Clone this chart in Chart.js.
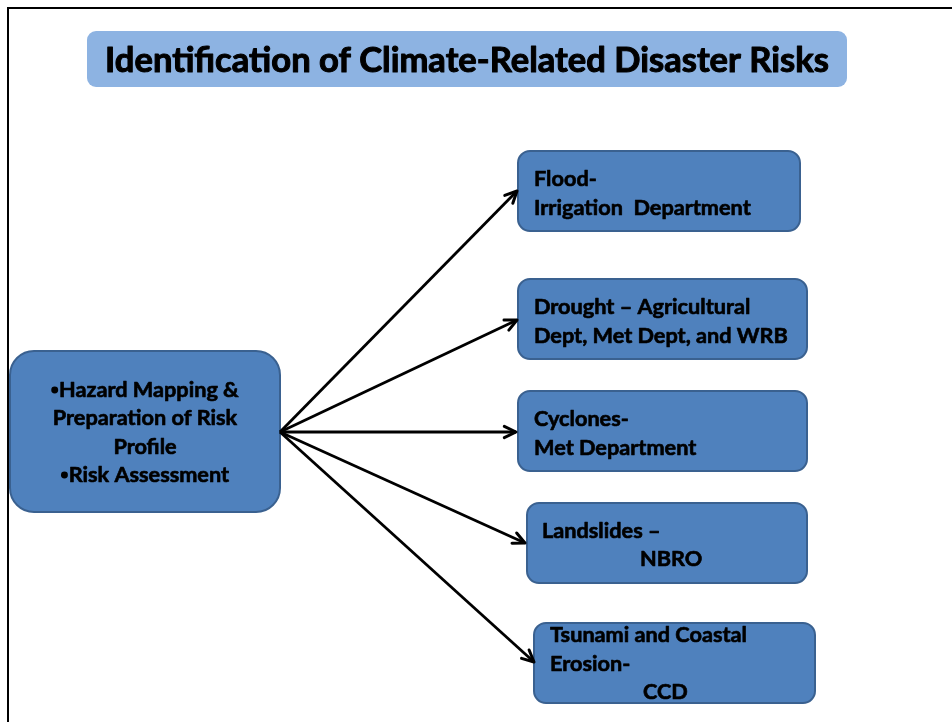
<!DOCTYPE html>
<html>
<head>
<meta charset="utf-8">
<script src="https://cdn.jsdelivr.net/npm/chart.js@4.4.1/dist/chart.umd.min.js"></script>
<style>
  body { margin: 0; background: #fff; }
  canvas { display: block; }
</style>
</head>
<body>
<canvas id="diagram" width="952" height="722"></canvas>
<script>
// diagram content
const titleText = "Identification of Climate-Related Disaster Risks";
const sourceLines = ["\u2022Hazard Mapping &", "Preparation of Risk", "Profile", "\u2022Risk Assessment"];
const targetLines = [
  ["Flood-", "Irrigation  Department"],
  ["Drought \u2013 Agricultural", "Dept, Met Dept, and WRB"],
  ["Cyclones-", "Met Department"],
  ["Landslides \u2013", "NBRO"],
  ["Tsunami and Coastal", "Erosion-", "CCD"]
];

// layout in page units (x right, y down)
const frameX = [8, 8, 952];
const frameY = [722, 8, 8];
const titleBox = [87, 847, 31, 87];
const sourceBox = [10, 280, 351, 512];
const sourceLineY = [390, 418, 447, 475];
const targetLeft = [518, 518, 518, 527, 534];
const targetRight = [800, 807, 807, 807, 815];
const targetTop = [151, 279, 391, 503, 623];
const targetBottom = [231, 359, 471, 583, 703];
const targetTextX = [[534, 534], [534, 534], [534, 534], [542, 640], [550, 550, 643]];
const targetTextY = [[179, 208], [307, 336], [419, 448], [531, 559], [635, 664, 692]];
const arrowFrom = [280, 432];
const arrowToX = [517, 517, 516, 525, 534];
const arrowToY = [191, 320, 432, 543, 662];

const fontFamily = "Lato, 'Open Sans', sans-serif";

function fitFont(ctx, text, width) {
  ctx.font = "bold 100px " + fontFamily;
  return 100 * width / ctx.measureText(text).width;
}

function roundBox(ctx, x1, y1, x2, y2, r) {
  ctx.beginPath();
  ctx.moveTo(x1 + r, y1);
  ctx.arcTo(x2, y1, x2, y2, r);
  ctx.arcTo(x2, y2, x1, y2, r);
  ctx.arcTo(x1, y2, x1, y1, r);
  ctx.arcTo(x1, y1, x2, y1, r);
  ctx.closePath();
}

// bullets are drawn smaller, like the original slide; a thin stroke makes the text heavier
function drawLine(ctx, text, x, y, size, align) {
  const bullet = text.startsWith("\u2022");
  const body = bullet ? text.slice(1) : text;
  ctx.font = "bold " + size + "px " + fontFamily;
  const w = ctx.measureText(body).width;
  const bw = bullet ? size * 0.36 : 0;
  let left = align === 'center' ? x - (w + bw) / 2 : x;
  if (bullet) {
    ctx.beginPath();
    ctx.arc(left + bw * 0.45, y, size * 0.16, 0, Math.PI * 2);
    ctx.fill();
  }
  ctx.textAlign = 'left';
  ctx.strokeStyle = ctx.fillStyle;
  ctx.lineWidth = size * 0.03;
  ctx.lineJoin = 'round';
  ctx.fillText(body, left + bw, y);
  ctx.strokeText(body, left + bw, y);
}

const boxesPlugin = {
  id: 'boxes',
  beforeDatasetsDraw(chart) {
    const ctx = chart.ctx;
    const sx = chart.scales.x, sy = chart.scales.y;
    ctx.save();
    // page frame
    ctx.strokeStyle = '#000';
    ctx.lineWidth = 2;
    ctx.beginPath();
    frameX.forEach((v, i) => {
      const px = sx.getPixelForValue(v), py = sy.getPixelForValue(frameY[i]);
      if (i === 0) ctx.moveTo(px, py); else ctx.lineTo(px, py);
    });
    ctx.stroke();

    // title
    roundBox(ctx, sx.getPixelForValue(titleBox[0]), sy.getPixelForValue(titleBox[2]),
      sx.getPixelForValue(titleBox[1]), sy.getPixelForValue(titleBox[3]), 9);
    ctx.fillStyle = '#8DB3E2';
    ctx.fill();
    const tSize = fitFont(ctx, titleText, 724);
    ctx.fillStyle = '#000';
    ctx.textBaseline = 'middle';
    drawLine(ctx, titleText, sx.getPixelForValue((titleBox[0] + titleBox[1]) / 2), sy.getPixelForValue(61), tSize, 'center');

    // source box
    roundBox(ctx, sx.getPixelForValue(sourceBox[0]), sy.getPixelForValue(sourceBox[2]),
      sx.getPixelForValue(sourceBox[1]), sy.getPixelForValue(sourceBox[3]), 24);
    ctx.fillStyle = '#4F81BD';
    ctx.fill();
    ctx.strokeStyle = '#3A6190';
    ctx.lineWidth = 2;
    ctx.stroke();
    const bSize = fitFont(ctx, "Dept, Met Dept, and WRB", 254);
    ctx.fillStyle = '#000';
    sourceLines.forEach((t, i) => {
      drawLine(ctx, t, sx.getPixelForValue((sourceBox[0] + sourceBox[1]) / 2), sy.getPixelForValue(sourceLineY[i]), bSize, 'center');
    });

    // target boxes
    targetLines.forEach((lines, k) => {
      roundBox(ctx, sx.getPixelForValue(targetLeft[k]), sy.getPixelForValue(targetTop[k]),
        sx.getPixelForValue(targetRight[k]), sy.getPixelForValue(targetBottom[k]), 12);
      ctx.fillStyle = '#4F81BD';
      ctx.fill();
      ctx.strokeStyle = '#3A6190';
      ctx.lineWidth = 2;
      ctx.stroke();
      ctx.fillStyle = '#000';
      lines.forEach((t, i) => {
        drawLine(ctx, t, sx.getPixelForValue(targetTextX[k][i]), sy.getPixelForValue(targetTextY[k][i]), bSize, 'left');
      });
    });
    ctx.restore();
  },
  afterDatasetsDraw(chart) {
    const ctx = chart.ctx;
    ctx.save();
    ctx.strokeStyle = '#000';
    ctx.lineWidth = 3;
    ctx.lineCap = 'round';
    ctx.lineJoin = 'round';
    chart.data.datasets.forEach((ds, i) => {
      const pts = chart.getDatasetMeta(i).data;
      const a = pts[0], b = pts[1];
      const ang = Math.atan2(b.y - a.y, b.x - a.x);
      const len = 13;
      ctx.beginPath();
      ctx.moveTo(b.x - len * Math.cos(ang - 0.45), b.y - len * Math.sin(ang - 0.45));
      ctx.lineTo(b.x, b.y);
      ctx.lineTo(b.x - len * Math.cos(ang + 0.45), b.y - len * Math.sin(ang + 0.45));
      ctx.stroke();
    });
    ctx.restore();
  }
};

const arrowSets = arrowToX.map((x, i) => ({
  data: [{ x: arrowFrom[0], y: arrowFrom[1] }, { x: x, y: arrowToY[i] }],
  borderColor: '#000',
  borderWidth: 2.8,
  pointRadius: 0,
  showLine: true,
  fill: false
}));

new Chart(document.getElementById('diagram').getContext('2d'), {
  type: 'scatter',
  data: { datasets: arrowSets },
  options: {
    responsive: false,
    animation: false,
    layout: { padding: 0 },
    plugins: { legend: { display: false }, tooltip: { enabled: false } },
    scales: {
      x: { type: 'linear', min: 0, max: 952, display: false },
      y: { type: 'linear', min: 0, max: 722, reverse: true, display: false }
    }
  },
  plugins: [boxesPlugin]
});
</script>
</body>
</html>
